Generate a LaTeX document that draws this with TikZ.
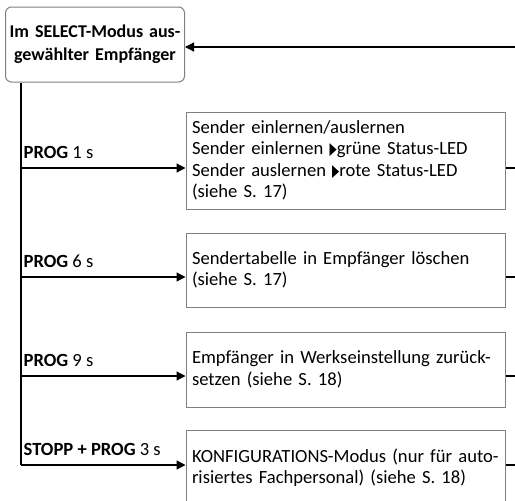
\documentclass[tikz,border=0pt]{standalone}
\usepackage{fontspec}
\setmainfont{Carlito}
\newfontfamily\symbolfont{DejaVu Sans}
\usepackage{tikz}
\usetikzlibrary{arrows.meta}
\definecolor{boxgray}{RGB}{128,128,128}
\newcommand{\ledarrow}{\scalebox{0.55}[1]{\symbolfont\fontsize{17}{17}\selectfont ▶}}

\begin{document}
\begin{tikzpicture}[x=1pt,y=-1pt,->,>={Triangle[length=9pt,width=9pt]},line width=1.3pt,
                    start node/.style={rectangle,rounded corners=6pt,draw=boxgray,line width=1pt,
                      text width=175pt,align=center,minimum height=75pt,inner sep=2pt,
                      font=\fontsize{18}{23}\selectfont\bfseries},
                    step node/.style={rectangle,draw=boxgray,line width=1pt,
                      text width=307pt,align=left,inner sep=6pt,font=\fontsize{18.6}{21.5}\selectfont},
                    prog label/.style={pos=0,anchor=base west,inner sep=0pt,xshift=2pt,yshift=9.5pt,
                      font=\fontsize{18.6}{21.5}\selectfont}]

  \path[use as bounding box,clip] (0,0) rectangle (515,501);

  \node[start node] (sel) at (95,44.5) {Im SELECT-Modus aus-\\gewählter Empfänger};
  \node[step node,minimum height=97pt] (b1) at (345.5,160.5)
    {Sender einlernen/auslernen\\Sender einlernen \ledarrow grüne Status-LED\\Sender auslernen \ledarrow rote Status-LED\\(siehe S. 17)};
  \node[step node,minimum height=74pt] (b2) at (345.5,270) {Sendertabelle in Empfänger löschen\\(siehe S. 17)};
  \node[step node,minimum height=75pt] (b3) at (345.5,369.5) {Empfänger in Werkseinstellung zurück-\\setzen (siehe S. 18)};
  \node[step node,minimum height=75pt] (b4) at (345.5,467.5) {KONFIGURATIONS-Modus (nur für auto-\\risiertes Fachpersonal) (siehe S. 18)};

  \coordinate (in) at (515,47);
  \coordinate (s1) at (21,168);
  \coordinate (s2) at (21,277);
  \coordinate (s3) at (21,376);
  \coordinate (s4) at (21,465);
  \coordinate (e1) at (515,168);
  \coordinate (e2) at (515,277);
  \coordinate (e3) at (515,376);
  \coordinate (e4) at (515,465);

  \draw (in) -- (sel.east |- in);
  \draw[-] (sel.south -| s1) -- (s4);

  \path[every node/.style={prog label}]
    (s1) edge node {\textbf{PROG} 1 s} (s1 -| b1.west)
    (s2) edge node {\textbf{PROG} 6 s} (s2 -| b2.west)
    (s3) edge node {\textbf{PROG} 9 s} (s3 -| b3.west)
    (s4) edge node {\textbf{STOPP + PROG} 3 s} (s4 -| b4.west)
    (s1 -| b1.east) edge[-] (e1)
    (s2 -| b2.east) edge[-] (e2)
    (s3 -| b3.east) edge[-] (e3)
    (s4 -| b4.east) edge[-] (e4)
;
\end{tikzpicture}
\end{document}
